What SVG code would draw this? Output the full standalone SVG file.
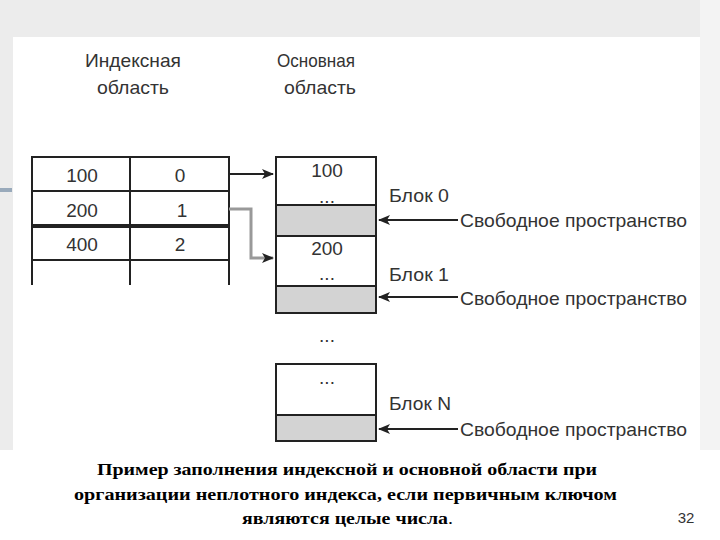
<svg xmlns="http://www.w3.org/2000/svg" width="720" height="540" viewBox="0 0 720 540">
<defs>
<style>
.t{font-family:"Liberation Sans",Arial,sans-serif;font-size:19px;fill:#333}
.c{font-family:"Liberation Serif","Times New Roman",serif;font-size:17px;font-weight:bold;fill:#000}
.ln{stroke:#222;stroke-width:2;fill:none}
.g{fill:#d3d3d3;stroke:#222;stroke-width:2}
.w{fill:#fff;stroke:#222;stroke-width:2}
</style>
<marker id="a" viewBox="0 0 12 10" refX="11" refY="5" markerWidth="12" markerHeight="10" markerUnits="userSpaceOnUse" orient="auto"><path d="M0,0 L12,5 L0,10 L3,5 Z" fill="#222"/></marker>
</defs>
<rect width="720" height="540" fill="#fff"/>
<rect width="720" height="37" fill="#ececec"/>
<rect x="0" y="0" width="13" height="450" fill="#ececec"/>
<rect x="700" y="0" width="20" height="450" fill="#f3f3f3"/>
<rect x="0" y="188" width="12" height="4" fill="#9ab"/>
<g id="labels">
<text class="t" x="85" y="67" textLength="96" lengthAdjust="spacingAndGlyphs">Индексная</text>
<text class="t" x="97" y="94" textLength="72" lengthAdjust="spacingAndGlyphs">область</text>
<text class="t" x="277" y="67" textLength="78" lengthAdjust="spacingAndGlyphs">Основная</text>
<text class="t" x="284" y="94" textLength="72" lengthAdjust="spacingAndGlyphs">область</text>
</g>
<g id="index-table">
<path class="ln" d="M32,285 V157 H229 V285 M130,157 V285 M32,191 H229 M32,260 H229"/>
<path d="M32,226 H229" stroke="#222" stroke-width="4"/>
<text class="t" x="82" y="182" text-anchor="middle">100</text>
<text class="t" x="180" y="182" text-anchor="middle">0</text>
<text class="t" x="82" y="217" text-anchor="middle">200</text>
<text class="t" x="182" y="217" text-anchor="middle">1</text>
<text class="t" x="82" y="251" text-anchor="middle">400</text>
<text class="t" x="180" y="251" text-anchor="middle">2</text>
</g>
<g id="block0">
<rect class="w" x="276" y="157" width="100" height="48"/>
<rect class="g" x="276" y="205" width="100" height="31"/>
<text class="t" x="327" y="177" text-anchor="middle">100</text>
<text class="t" x="327" y="203" text-anchor="middle">...</text>
<text class="t" x="389" y="202" textLength="60" lengthAdjust="spacingAndGlyphs">Блок 0</text>
</g>
<g id="block1">
<rect class="w" x="276" y="236" width="100" height="50"/>
<rect class="g" x="276" y="286" width="100" height="27"/>
<text class="t" x="327" y="255" text-anchor="middle">200</text>
<text class="t" x="327" y="280" text-anchor="middle">...</text>
<text class="t" x="389" y="281" textLength="60" lengthAdjust="spacingAndGlyphs">Блок 1</text>
</g>
<text class="t" x="327" y="342" text-anchor="middle">...</text>
<g id="blockN">
<rect class="w" x="276" y="364" width="100" height="51"/>
<rect class="g" x="276" y="415" width="100" height="26"/>
<text class="t" x="327" y="384" text-anchor="middle">...</text>
<text class="t" x="389" y="410" textLength="62" lengthAdjust="spacingAndGlyphs">Блок N</text>
</g>
<g id="free">
<text class="t" x="460" y="227" textLength="227" lengthAdjust="spacingAndGlyphs">Свободное пространство</text>
<text class="t" x="460" y="305" textLength="227" lengthAdjust="spacingAndGlyphs">Свободное пространство</text>
<text class="t" x="460" y="436" textLength="227" lengthAdjust="spacingAndGlyphs">Свободное пространство</text>
</g>
<g id="connectors">
<path class="ln" d="M229,174 H273" marker-end="url(#a)"/>
<path d="M229,209 H251 V258 H273" stroke="#999" stroke-width="3" fill="none" marker-end="url(#a)"/>
<path class="ln" d="M458,220 H379" marker-end="url(#a)"/>
<path class="ln" d="M458,297 H379" marker-end="url(#a)"/>
<path class="ln" d="M458,429 H379" marker-end="url(#a)"/>
</g>
<g id="caption">
<text class="c" x="97" y="475" textLength="500" lengthAdjust="spacingAndGlyphs">Пример заполнения индексной и основной области при</text>
<text class="c" x="74" y="500" textLength="543" lengthAdjust="spacingAndGlyphs">организации неплотного индекса, если первичным ключом</text>
<text class="c" x="242" y="524" textLength="211" lengthAdjust="spacingAndGlyphs">являются целые числа<tspan font-weight="normal">.</tspan></text>
<text x="686" y="523" text-anchor="middle" font-family="Liberation Sans,Arial,sans-serif" font-size="15" fill="#333">32</text>
</g>
</svg>
